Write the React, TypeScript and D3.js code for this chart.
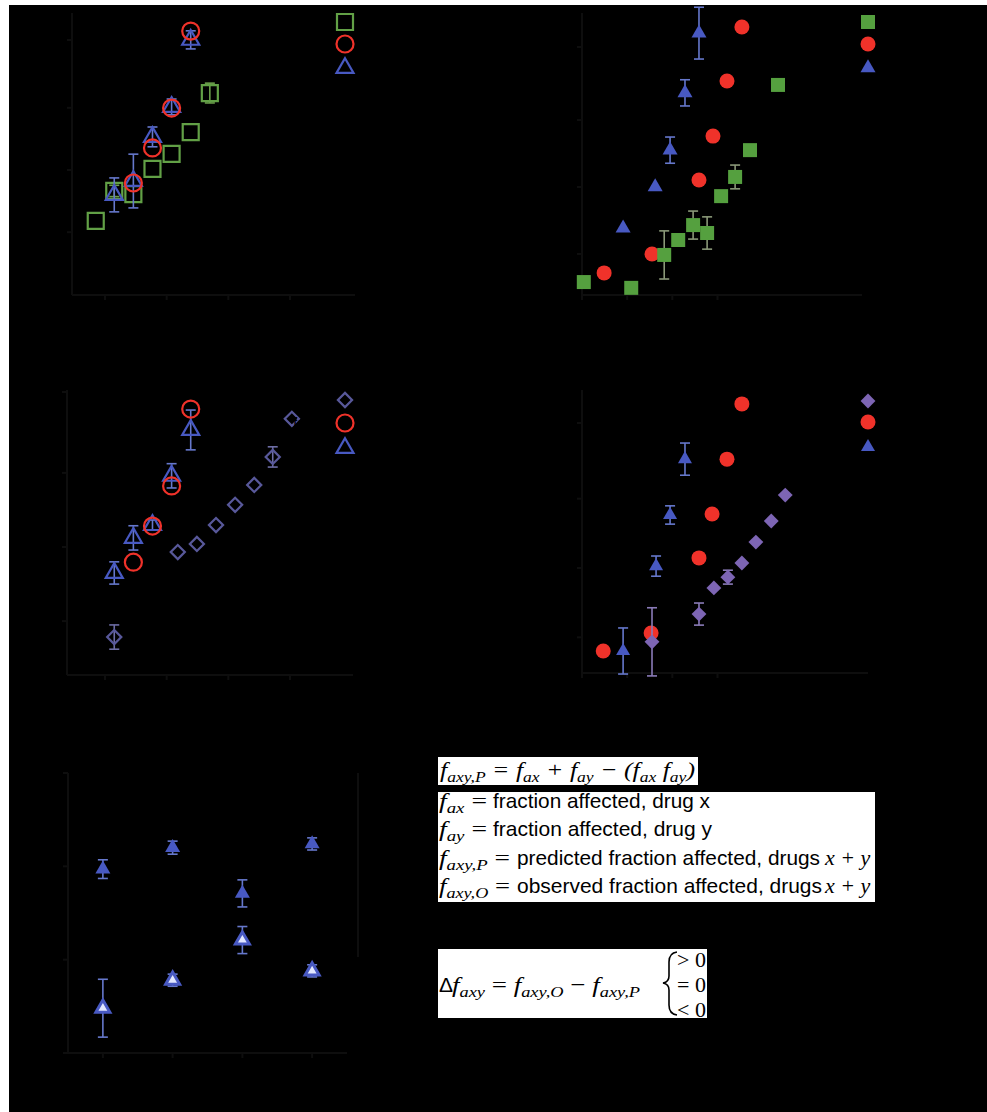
import React, { useEffect, useRef } from "react";
import * as d3 from "d3";

// x = log10 dose, y = logit(fraction affected)

// panel A
const aDoseX = [-0.15, 0.15, 0.46, 0.77, 1.08, 1.39, 1.7];
const aFx = [-1.8, -0.74, -0.85, 0.04, 0.57, 1.34, 2.72];
const aFxErr = [0, 0.2, 0, 0, 0, 0, 0.35];
const aDosePred = [0.46, 0.77, 1.08, 1.39];
const aPred = [-0.46, 0.78, 2.19, 4.91];
const aDoseObs = [0.15, 0.46, 0.77, 1.08, 1.39];
const aObs = [-0.88, -0.39, 1.17, 2.23, 4.6];
const aObsErr = [0.6, 0.95, 0.35, 0.28, 0.32];

// panel B
const bDoseX = [0.04, 1.09, 1.82, 2.13, 2.46, 2.77, 3.08, 3.39, 3.72, 4.34];
const bFx = [-3.12, -3.31, -2.23, -1.74, -1.25, -1.51, -0.3, 0.33, 1.21, 3.35];
const bFxErr = [0, 0, 0.79, 0, 0.46, 0.53, 0, 0.39, 0, 0];
const bDosePred = [0.49, 1.55, 2.59, 2.9, 3.21, 3.54];
const bPred = [-2.82, -2.2, 0.23, 1.67, 3.48, 5.25];
const bDoseObs = [0.91, 1.62, 1.95, 2.28, 2.59];
const bObs = [-1.35, 0, 1.21, 3.09, 5.05];
const bObsErr = [0, 0, 0.43, 0.43, 0.85];

// panel C
const cDoseY = [0.15, 1.18, 1.49, 1.8, 2.11, 2.42, 2.72, 3.03];
const cFy = [-2.67, -0.15, 0.09, 0.65, 1.25, 1.84, 2.67, 3.8];
const cFyErr = [0.36, 0, 0, 0, 0, 0, 0.3, 0];
const cDosePred = [0.46, 0.77, 1.08, 1.39];
const cPred = [-0.45, 0.62, 1.81, 4.09];
const cDoseObs = [0.15, 0.46, 0.77, 1.08, 1.39];
const cObs = [-0.77, 0.27, 0.65, 2.11, 3.47];
const cObsErr = [0.33, 0.36, 0.15, 0.36, 0.59];

// panel D
const dDoseY = [1.55, 2.59, 2.92, 3.23, 3.54, 3.85, 4.19, 4.5];
const dFy = [-2.34, -1.46, -0.63, -0.29, 0.16, 0.82, 1.49, 2.31];
const dFyErr = [1.08, 0.35, 0, 0.22, 0, 0, 0, 0];
const dDosePred = [0.47, 1.53, 2.59, 2.88, 3.21, 3.54];
const dPred = [-2.63, -2.06, 0.32, 1.71, 3.45, 5.2];
const dDoseObs = [0.91, 1.64, 1.95, 2.28];
const dObs = [-2.63, 0.06, 1.68, 3.45];
const dObsErr = [0.73, 0.32, 0.29, 0.51];

// panel E
const eGroups = ["1", "2", "3", "4"];
const eFa = [1.97, 2.2, 1.71, 2.24];
const eFaErr = [0.1, 0.07, 0.145, 0.065];
const eDelta = [0.48, 0.78, 1.21, 0.88];
const eDeltaErr = [0.31, 0.065, 0.145, 0.065];
const eTicks = [0, 1, 2, 3];

const doseTicks = [0, 1, 2, 3];
const doseTickLabels = ["1", "10", "100", "1000"];
const faTicks = [0.01, 0.1, 0.5, 0.9, 0.99];

const GREEN = "#62a046";
const GREEN_F = "#55a03f";
const RED = "#f0322a";
const BLUE = "#4859c2";
const SLATE = "#58589a";
const PURPLE = "#7d65b4";
const AXIS = "#0e0e0e";

const logit = (p) => Math.log(p / (1 - p));

const symbolPath = (shape, w) => {
  if (shape === "circle") return d3.symbol(d3.symbolCircle, Math.PI * (w / 2) ** 2)();
  if (shape === "triangle") return d3.symbol(d3.symbolTriangle, (Math.sqrt(3) / 4) * w * w)();
  return d3.symbol(d3.symbolSquare, w * w)();
};

const panels = [
  {
    frame: { l: 72, r: 355, t: 13, b: 295 },
    xr: [105, 290],
    yr: [170, 40],
    legend: { x: 345, y: [22, 44, 68] },
    series: [
      { x: aDoseX, y: aFx, err: aFxErr, shape: "square", filled: false, color: GREEN, errColor: "#6c9f4c", w: 16, li: 0, label: "fax" },
      { x: aDoseObs, y: aObs, err: aObsErr, shape: "triangle", filled: false, color: BLUE, errColor: "#6678cc", w: 17, li: 2, label: "faxy,O" },
      { x: aDosePred, y: aPred, shape: "circle", filled: false, color: RED, w: 17, li: 1, label: "faxy,P" },
    ],
  },
  {
    frame: { l: 582, r: 862, t: 13, b: 295 },
    xr: [582, 717.5],
    yr: [187, 47],
    legend: { x: 868, y: [22, 44, 68] },
    series: [
      { x: bDosePred, y: bPred, shape: "circle", filled: true, color: RED, w: 15, li: 1, label: "faxy,P" },
      { x: bDoseObs, y: bObs, err: bObsErr, shape: "triangle", filled: true, color: BLUE, errColor: "#6678cc", w: 15, li: 2, label: "faxy,O" },
      { x: bDoseX, y: bFx, err: bFxErr, shape: "square", filled: true, color: GREEN_F, errColor: "#8a9878", w: 14, li: 0, label: "fax" },
    ],
  },
  {
    frame: { l: 67, r: 353, t: 390, b: 675 },
    xr: [105, 290],
    yr: [547, 392],
    legend: { x: 345, y: [400, 423, 448] },
    series: [
      { x: cDoseY, y: cFy, err: cFyErr, shape: "diamond", filled: false, color: SLATE, errColor: "#6d6da5", w: 10, li: 0, label: "fay" },
      { x: cDoseObs, y: cObs, err: cObsErr, shape: "triangle", filled: false, color: BLUE, errColor: "#6678cc", w: 17, li: 2, label: "faxy,O" },
      { x: cDosePred, y: cPred, shape: "circle", filled: false, color: RED, w: 17, li: 1, label: "faxy,P" },
    ],
  },
  {
    frame: { l: 582, r: 868, t: 390, b: 673 },
    xr: [582, 717.5],
    yr: [568, 423],
    legend: { x: 868, y: [401, 422, 447] },
    series: [
      { x: dDosePred, y: dPred, shape: "circle", filled: true, color: RED, w: 15, li: 1, label: "faxy,P" },
      { x: dDoseObs, y: dObs, err: dObsErr, shape: "triangle", filled: true, color: BLUE, errColor: "#6678cc", w: 14, li: 2, label: "faxy,O" },
      { x: dDoseY, y: dFy, err: dFyErr, shape: "diamond", filled: true, color: PURPLE, errColor: "#8a7bb8", w: 10.5, li: 0, label: "fay" },
    ],
  },
];

function drawMarker(g, s, cx, cy) {
  g.append("path")
    .attr("d", symbolPath(s.shape, s.w))
    .attr("transform", `translate(${cx},${cy})${s.shape === "diamond" ? " rotate(45)" : ""}`)
    .attr("fill", s.filled ? s.color : s.fillColor || "none")
    .attr("stroke", s.color)
    .attr("stroke-width", s.filled ? 0 : s.sw || 2.2);
}

function drawErr(g, color, cx, y1, y2) {
  g.append("line").attr("x1", cx).attr("x2", cx).attr("y1", y1).attr("y2", y2)
    .attr("stroke", color).attr("stroke-width", 1.6);
  [y1, y2].forEach((yy) =>
    g.append("line").attr("x1", cx - 5).attr("x2", cx + 5).attr("y1", yy).attr("y2", yy)
      .attr("stroke", color).attr("stroke-width", 1.6)
  );
}

function drawPanel(g, p) {
  const x = d3.scaleLinear().domain([0, 3]).range(p.xr);
  const y = d3.scaleLinear().domain([0, logit(0.99)]).range(p.yr);
  const { l, r, t, b } = p.frame;

  // axes
  g.append("line").attr("x1", l).attr("x2", l).attr("y1", t).attr("y2", b)
    .attr("stroke", AXIS).attr("stroke-width", 2);
  g.append("line").attr("x1", l).attr("x2", r).attr("y1", b).attr("y2", b)
    .attr("stroke", AXIS).attr("stroke-width", 2);

  doseTicks.forEach((v, i) => {
    g.append("line").attr("x1", x(v)).attr("x2", x(v)).attr("y1", b).attr("y2", b + 5)
      .attr("stroke", AXIS).attr("stroke-width", 2);
    g.append("text").attr("x", x(v)).attr("y", b + 20).attr("text-anchor", "middle")
      .attr("font-family", "Liberation Sans").attr("font-size", 13).attr("fill", "#000")
      .text(doseTickLabels[i]);
  });
  faTicks
    .filter((v) => y(logit(v)) >= t && y(logit(v)) <= b)
    .forEach((v) => {
      const yy = y(logit(v));
      g.append("line").attr("x1", l - 5).attr("x2", l).attr("y1", yy).attr("y2", yy)
        .attr("stroke", AXIS).attr("stroke-width", 2);
      g.append("text").attr("x", l - 8).attr("y", yy).attr("dy", "0.35em")
        .attr("text-anchor", "end").attr("font-family", "Liberation Sans")
        .attr("font-size", 13).attr("fill", "#000").text(v);
    });

  p.series.forEach((s) => {
    s.x.forEach((xv, i) => {
      const e = s.err ? s.err[i] : 0;
      if (e > 0) drawErr(g, s.errColor, x(xv), y(s.y[i] + e), y(s.y[i] - e));
    });
    s.x.forEach((xv, i) => drawMarker(g, s, x(xv), y(s.y[i])));
    const ly = p.legend.y[s.li];
    drawMarker(g, s, p.legend.x, ly);
    g.append("text").attr("x", p.legend.x - 14).attr("y", ly).attr("dy", "0.35em")
      .attr("text-anchor", "end").attr("font-family", "Liberation Sans")
      .attr("font-size", 14).attr("fill", "#000").text(s.label);
  });
}

function drawPanelE(g) {
  const l = 68, r = 347, t = 773, b = 1053;
  const x = d3.scalePoint().domain(eGroups).range([l, r]).padding(0.5);
  const y = d3.scaleLinear().domain([0, 3]).range([b, t]);

  g.append("line").attr("x1", l).attr("x2", l).attr("y1", t).attr("y2", b)
    .attr("stroke", AXIS).attr("stroke-width", 2);
  g.append("line").attr("x1", l).attr("x2", r).attr("y1", b).attr("y2", b)
    .attr("stroke", AXIS).attr("stroke-width", 2);
  g.append("line").attr("x1", 358).attr("x2", 358).attr("y1", t).attr("y2", 957)
    .attr("stroke", AXIS).attr("stroke-width", 2);

  eTicks.forEach((v) => {
    g.append("line").attr("x1", l - 5).attr("x2", l).attr("y1", y(v)).attr("y2", y(v))
      .attr("stroke", AXIS).attr("stroke-width", 2);
    g.append("text").attr("x", l - 8).attr("y", y(v)).attr("dy", "0.35em")
      .attr("text-anchor", "end").attr("font-family", "Liberation Sans")
      .attr("font-size", 13).attr("fill", "#000").text(v);
  });
  eGroups.forEach((c) => {
    g.append("line").attr("x1", x(c)).attr("x2", x(c)).attr("y1", b).attr("y2", b + 5)
      .attr("stroke", AXIS).attr("stroke-width", 2);
    g.append("text").attr("x", x(c)).attr("y", b + 20).attr("text-anchor", "middle")
      .attr("font-family", "Liberation Sans").attr("font-size", 13).attr("fill", "#000")
      .text(c);
  });

  const filled = { shape: "triangle", filled: true, color: BLUE, w: 15 };
  const open = { shape: "triangle", filled: false, color: BLUE, fillColor: "#e2e7ff", sw: 3, w: 14 };
  eGroups.forEach((c, i) => {
    drawErr(g, "#6678cc", x(c), y(eFa[i] + eFaErr[i]), y(eFa[i] - eFaErr[i]));
    drawMarker(g, filled, x(c), y(eFa[i]));
    drawErr(g, "#6678cc", x(c), y(eDelta[i] + eDeltaErr[i]), y(eDelta[i] - eDeltaErr[i]));
    drawMarker(g, open, x(c), y(eDelta[i]));
  });
}

const serif = "Liberation Serif";
const sans = "Liberation Sans";

const Sub = ({ t }) => (
  <>
    <tspan>f</tspan>
    <tspan fontSize={15} dy={5}>{t}</tspan>
    <tspan dy={-5}>{" "}</tspan>
  </>
);

export default function App() {
  const gRef = useRef(null);

  useEffect(() => {
    const g = d3.select(gRef.current);
    g.selectAll("*").remove();
    panels.forEach((p) => drawPanel(g.append("g"), p));
    drawPanelE(g.append("g"));
  }, []);

  return (
    <svg
      width={987}
      height={1112}
      style={{ position: "absolute", left: 0, top: 0, display: "block" }}
    >
      <defs>
        <clipPath id="box2">
          <rect x={438} y={792} width={437} height={110} />
        </clipPath>
        <clipPath id="box3">
          <rect x={438} y={949} width={269} height={69} />
        </clipPath>
      </defs>
      <rect x={0} y={0} width={987} height={1112} fill="#fff" />
      <rect x={9} y={5} width={978} height={1107} fill="#000" />
      <g ref={gRef} />

      {/* equation 1 */}
      <rect x={438} y={757} width={260} height={28} fill="#fff" />
      <text x={440} y={777} fontFamily={serif} fontStyle="italic" fontSize={22} fill="#000"
        textLength={255} lengthAdjust="spacingAndGlyphs">
        <Sub t="axy,P" />
        <tspan>= </tspan>
        <Sub t="ax" />
        <tspan>+ </tspan>
        <Sub t="ay" />
        <tspan>− (</tspan>
        <Sub t="ax" />
        <tspan>f</tspan>
        <tspan fontSize={15} dy={5}>ay</tspan>
        <tspan dy={-5}>)</tspan>
      </text>

      {/* definitions */}
      <rect x={438} y={792} width={437} height={110} fill="#fff" />
      <g clipPath="url(#box2)" fill="#000">
        <text x={439} y={808} fontFamily={serif} fontStyle="italic" fontSize={22} textLength={48} lengthAdjust="spacingAndGlyphs">
          <Sub t="ax" /><tspan fontStyle="normal">=</tspan>
        </text>
        <text x={493} y={808} fontFamily={sans} fontSize={21} textLength={217} lengthAdjust="spacingAndGlyphs">
          fraction affected, drug x
        </text>
        <text x={439} y={836} fontFamily={serif} fontStyle="italic" fontSize={22} textLength={48} lengthAdjust="spacingAndGlyphs">
          <Sub t="ay" /><tspan fontStyle="normal">=</tspan>
        </text>
        <text x={493} y={836} fontFamily={sans} fontSize={21} textLength={219} lengthAdjust="spacingAndGlyphs">
          fraction affected, drug y
        </text>
        <text x={439} y={865} fontFamily={serif} fontStyle="italic" fontSize={22} textLength={71} lengthAdjust="spacingAndGlyphs">
          <Sub t="axy,P" /><tspan fontStyle="normal">=</tspan>
        </text>
        <text x={517} y={865} fontFamily={sans} fontSize={21} textLength={303} lengthAdjust="spacingAndGlyphs">
          predicted fraction affected, drugs
        </text>
        <text x={825} y={865} fontFamily={serif} fontStyle="italic" fontSize={22}>x + y</text>
        <text x={439} y={893} fontFamily={serif} fontStyle="italic" fontSize={22} textLength={71} lengthAdjust="spacingAndGlyphs">
          <Sub t="axy,O" /><tspan fontStyle="normal">=</tspan>
        </text>
        <text x={517} y={893} fontFamily={sans} fontSize={21} textLength={305} lengthAdjust="spacingAndGlyphs">
          observed fraction affected, drugs
        </text>
        <text x={825} y={893} fontFamily={serif} fontStyle="italic" fontSize={22}>x + y</text>
      </g>

      {/* delta definition */}
      <rect x={438} y={949} width={269} height={69} fill="#fff" />
      <g clipPath="url(#box3)" fill="#000">
        <text x={439} y={992} fontFamily={sans} fontSize={21}>Δ</text>
        <text x={452} y={992} fontFamily={serif} fontStyle="italic" fontSize={22} textLength={188} lengthAdjust="spacingAndGlyphs">
          <Sub t="axy" />
          <tspan fontStyle="normal">= </tspan>
          <Sub t="axy,O" />
          <tspan fontStyle="normal">− </tspan>
          <tspan>f</tspan>
          <tspan fontSize={15} dy={5}>axy,P</tspan>
        </text>
        <path
          d="M677,952 Q669,953 669,962 L669,976 Q669,982 663,983 Q669,984 669,990 L669,1005 Q669,1014 677,1015"
          fill="none" stroke="#000" strokeWidth={1.6}
        />
        <text x={677} y={967} fontFamily={serif} fontSize={22}>&gt; 0</text>
        <text x={677} y={992} fontFamily={serif} fontSize={22}>= 0</text>
        <text x={677} y={1017} fontFamily={serif} fontSize={22}>&lt; 0</text>
      </g>
    </svg>
  );
}
